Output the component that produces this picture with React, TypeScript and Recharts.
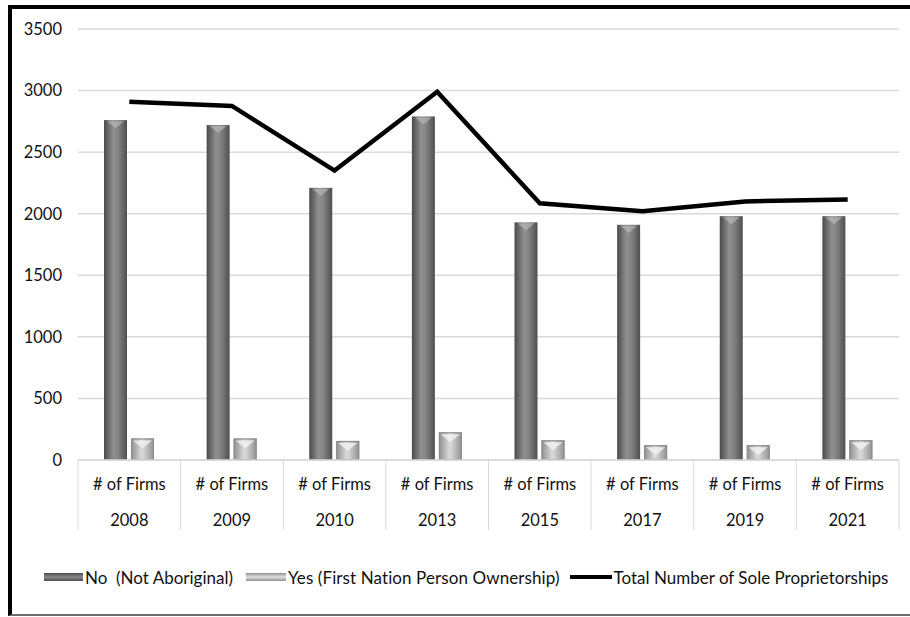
import React from 'react';
import { ComposedChart, Bar, Line, XAxis, YAxis, CartesianGrid, Legend } from 'recharts';

const years = ['2008', '2009', '2010', '2013', '2015', '2017', '2019', '2021'];
const categoryLabel = '# of Firms';
const notAboriginal = [2760, 2720, 2210, 2790, 1930, 1910, 1980, 1980];
const firstNation = [175, 175, 155, 225, 160, 120, 120, 160];
const totalSole = [2910, 2875, 2350, 2990, 2085, 2020, 2100, 2115];
const yTicks = [0, 500, 1000, 1500, 2000, 2500, 3000, 3500];

const seriesNames = {
  no: 'No  (Not Aboriginal)',
  yes: 'Yes (First Nation Person Ownership)',
  total: 'Total Number of Sole Proprietorships',
};

const data = years.map((y, i) => ({
  year: y,
  no: notAboriginal[i],
  yes: firstNation[i],
  total: totalSole[i],
}));

const FONT = 'Lato, "Open Sans", sans-serif';
const W = 910;
const H = 617;
const MARGIN = { top: 29, right: 11, bottom: 87, left: 0 };
const Y_WIDTH = 78;
const BAND = (W - MARGIN.left - MARGIN.right - Y_WIDTH) / years.length;

const NoShape = (props: any) => {
  const { x, y, width, height } = props;
  if (height <= 0) return null;
  const cap = Math.min(8, height);
  return (
    <g>
      <rect x={x} y={y} width={width} height={height} fill="url(#gradNo)" />
      <polygon
        points={`${x + 3},${y + 1} ${x + width - 3},${y + 1} ${x + width / 2},${y + cap}`}
        fill="#c4c4c4"
        opacity={0.55}
      />
    </g>
  );
};

const YesShape = (props: any) => {
  const { x, y, width, height } = props;
  if (height <= 0) return null;
  const inset = Math.min(6, height / 2.5);
  return (
    <g>
      <rect x={x} y={y} width={width} height={height} fill="url(#gradYes)" />
      <polygon
        points={`${x + 2},${y + 2} ${x + width - 2},${y + 2} ${x + width / 2},${y + inset + 4}`}
        fill="#f2f2f2"
        opacity={0.8}
      />
      <rect x={x + 0.5} y={y + 0.5} width={width - 1} height={height - 1} fill="none" stroke="#8a8a8a" strokeWidth={1} />
    </g>
  );
};

const XTick = (props: any) => {
  const { x, y, index } = props;
  const half = BAND / 2;
  const last = index === years.length - 1;
  return (
    <g>
      <line x1={x - half} y1={y} x2={x - half} y2={y + 70} stroke="#d9d9d9" strokeWidth={1} />
      {last && <line x1={x + half} y1={y} x2={x + half} y2={y + 70} stroke="#d9d9d9" strokeWidth={1} />}
      <text x={x} y={y + 30} textAnchor="middle" fontFamily={FONT} fontSize={16.5} fill="#111">
        {categoryLabel}
      </text>
      <text x={x} y={y + 66} textAnchor="middle" fontFamily={FONT} fontSize={16.5} fill="#111">
        {props.payload.value}
      </text>
    </g>
  );
};

const LegendContent = () => {
  const textStyle = (ls: number, mr: number): React.CSSProperties => ({
    fontFamily: FONT,
    fontSize: 17,
    color: '#111',
    marginLeft: 2,
    marginRight: mr,
    whiteSpace: 'pre',
    letterSpacing: ls,
  });
  return (
    <div style={{ display: 'flex', alignItems: 'center', paddingLeft: 44, height: 20 }}>
      <svg width={39} height={8}>
        <rect x={0} y={0} width={39} height={8} fill="url(#gradNoL)" />
      </svg>
      <span style={textStyle(0, 13)}>{seriesNames.no}</span>
      <svg width={40} height={8}>
        <rect x={0} y={0} width={40} height={8} fill="url(#gradYesL)" />
      </svg>
      <span style={textStyle(0.1, 10)}>{seriesNames.yes}</span>
      <svg width={42} height={8}>
        <line x1={0} y1={4} x2={42} y2={4} stroke="#000" strokeWidth={4} />
      </svg>
      <span style={textStyle(0, 0)}>{seriesNames.total}</span>
    </div>
  );
};

export default function App() {
  return (
    <div style={{ position: 'fixed', inset: 0, overflow: 'hidden', background: '#fff' }}>
      <div
        style={{
          position: 'absolute',
          left: 8,
          top: 5,
          width: 1000,
          height: 605,
          borderTop: '4px solid #000',
          borderLeft: '4px solid #000',
          borderBottom: '2px solid #6e6e6e',
        }}
      />
      <div style={{ position: 'absolute', left: 0, top: 0 }}>
        <ComposedChart width={W} height={H} data={data} margin={MARGIN} barSize={23} barGap={4}>
          <defs>
            <linearGradient id="gradNo" x1="0" y1="0" x2="1" y2="0">
              <stop offset="0%" stopColor="#4a4a4a" />
              <stop offset="40%" stopColor="#8f8f8f" />
              <stop offset="60%" stopColor="#858585" />
              <stop offset="100%" stopColor="#4f4f4f" />
            </linearGradient>
            <linearGradient id="gradYes" x1="0" y1="0" x2="1" y2="0">
              <stop offset="0%" stopColor="#8e8e8e" />
              <stop offset="45%" stopColor="#d8d8d8" />
              <stop offset="55%" stopColor="#d2d2d2" />
              <stop offset="100%" stopColor="#909090" />
            </linearGradient>
            <linearGradient id="gradNoL" x1="0" y1="0" x2="0" y2="1">
              <stop offset="0%" stopColor="#4a4a4a" />
              <stop offset="50%" stopColor="#8a8a8a" />
              <stop offset="100%" stopColor="#4f4f4f" />
            </linearGradient>
            <linearGradient id="gradYesL" x1="0" y1="0" x2="0" y2="1">
              <stop offset="0%" stopColor="#909090" />
              <stop offset="50%" stopColor="#e0e0e0" />
              <stop offset="100%" stopColor="#909090" />
            </linearGradient>
          </defs>
          <CartesianGrid horizontal vertical={false} stroke="#d9d9d9" strokeWidth={1.5} />
          <XAxis
            dataKey="year"
            type="category"
            height={70}
            tickLine={false}
            tickSize={0}
            tickMargin={0}
            axisLine={{ stroke: '#d9d9d9', strokeWidth: 1.5 }}
            tick={<XTick />}
            interval={0}
          />
          <YAxis
            width={Y_WIDTH}
            domain={[0, 3500]}
            ticks={yTicks}
            axisLine={false}
            tickLine={false}
            tickMargin={10}
            tick={{ fontFamily: FONT, fontSize: 16.5, fill: '#111' }}
            interval={0}
          />
          <Bar dataKey="no" name={seriesNames.no} shape={<NoShape />} isAnimationActive={false} />
          <Bar dataKey="yes" name={seriesNames.yes} shape={<YesShape />} isAnimationActive={false} />
          <Line
            dataKey="total"
            name={seriesNames.total}
            stroke="#000"
            strokeWidth={4.5}
            dot={false}
            activeDot={false}
            strokeLinejoin="miter"
            isAnimationActive={false}
          />
          <Legend
            verticalAlign="middle"
            align="center"
            layout="horizontal"
            content={<LegendContent />}
            wrapperStyle={{ position: 'absolute', top: 567, left: 0, width: W, height: 20 }}
          />
        </ComposedChart>
      </div>
    </div>
  );
}
